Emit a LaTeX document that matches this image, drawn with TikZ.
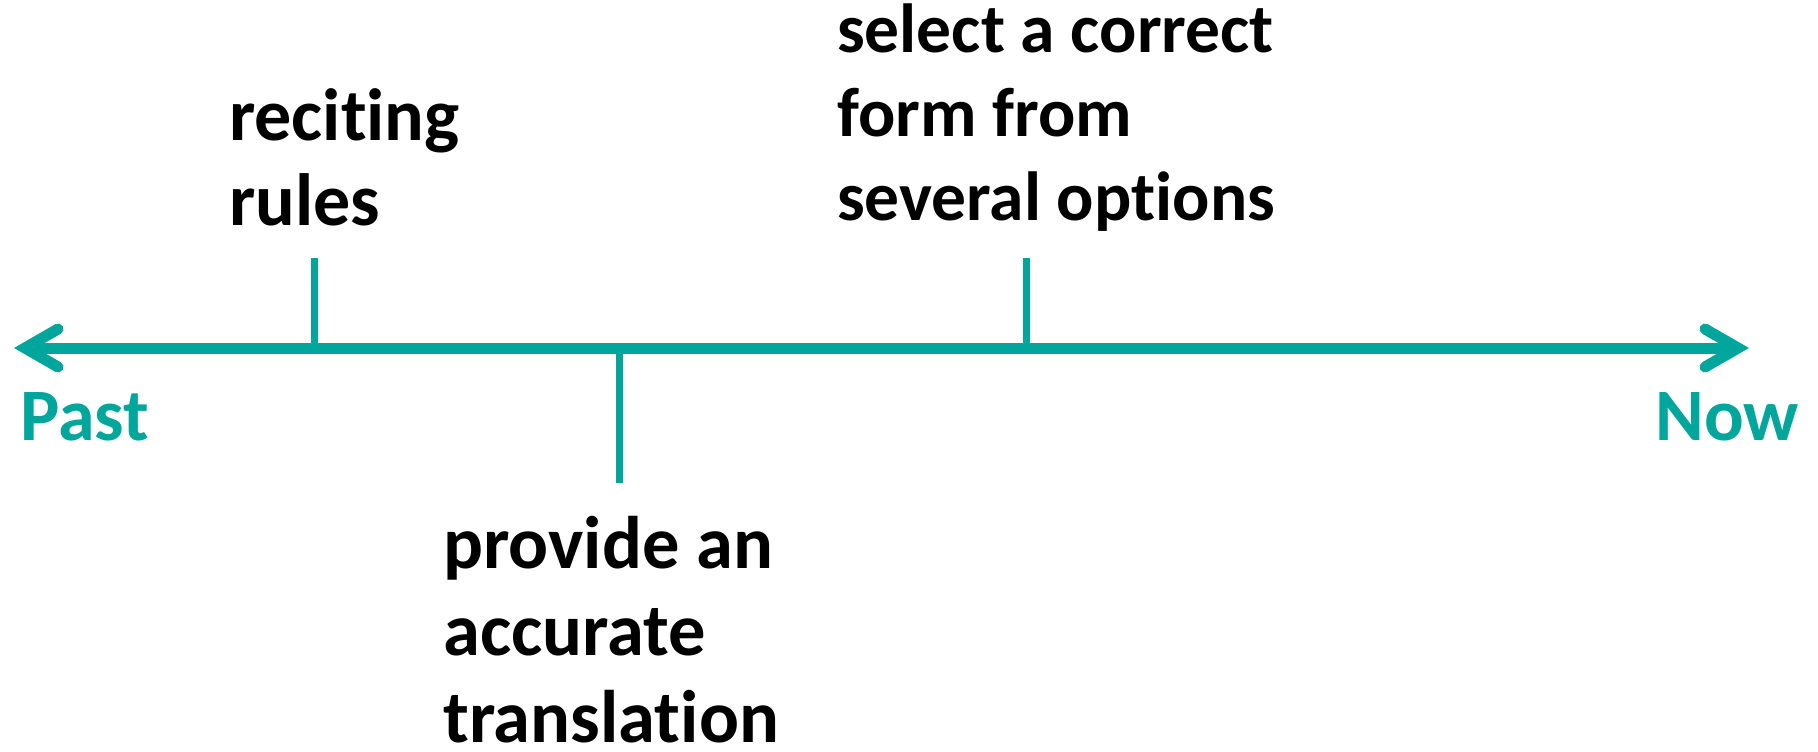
\documentclass[tikz,border=0pt]{standalone}
\usepackage{fontspec}
\setmainfont{Carlito}[Ligatures=NoCommon]
\usetikzlibrary{calc}
\definecolor{timeline}{RGB}{0,166,156}
\begin{document}
\begin{tikzpicture}[x=1pt,y=-1pt,
  axisline/.style={draw=timeline,line width=11pt,line cap=butt},
  tipline/.style={draw=timeline,line width=11pt,line cap=round,line join=miter},
  tick/.style={draw=timeline,line width=7pt},
  label/.style={inner sep=0pt,anchor=base west,align=left,font=\bfseries\fontsize{74}{85}\selectfont},
  smalllabel/.style={label,font=\bfseries\fontsize{69.5}{84}\selectfont},
  lowlabel/.style={label,font=\bfseries\fontsize{74.5}{87}\selectfont},
  endlabel/.style={inner sep=0pt,text=timeline,font=\bfseries\fontsize{74}{80}\selectfont}]
  \useasboundingbox (0,0) rectangle (1818,752);
  % ends of the time axis
  \coordinate (past) at (25,348);
  \coordinate (now) at (1738,348);
  \draw[axisline] (past) -- (now);
  \draw[tipline] ($(past)+(33,-19)$) -- (past) -- ($(past)+(33,19)$);
  \draw[tipline] ($(now)+(-33,-19)$) -- (now) -- ($(now)+(-33,19)$);
  % tick marks
  \coordinate (t1) at (314,348);
  \coordinate (t1top) at (314,258);
  \coordinate (t2) at (619,348);
  \coordinate (t2bot) at (619,483);
  \coordinate (t3) at (1026,348);
  \coordinate (t3top) at (1026,258);
  \draw[tick] (t1) -- (t1top);
  \draw[tick] (t2) -- (t2bot);
  \draw[tick] (t3) -- (t3top);
  % labels (base anchor sits on the last line)
  \node[label] (recite) at (229,225) {reciting\\rules};
  \node[smalllabel] (select) at (837,220) {select a correct\\form from\\several options};
  \node[lowlabel] (provide) at (443,742) {provide an\\accurate\\translation};
  \node[endlabel,anchor=base west] (pastlbl) at (20,440) {Past};
  \node[endlabel,anchor=base east] (nowlbl) at (1799,440) {Now};
\end{tikzpicture}
\end{document}
